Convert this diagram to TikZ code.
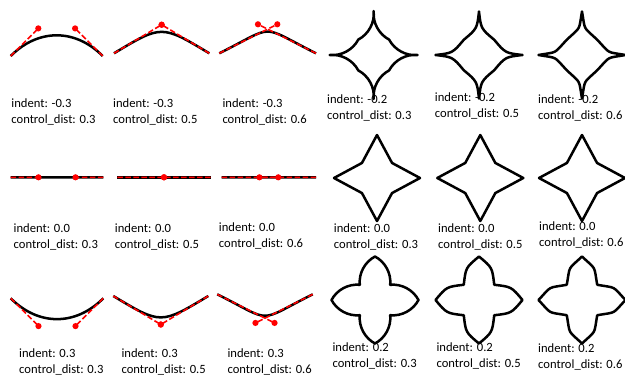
\documentclass[tikz,border=0pt]{standalone}
\usepackage{fontspec}
\setmainfont{Carlito}
\usetikzlibrary{calc}
\newcommand\seg[4]{.. controls ($(#1)!#4!(#2) + (#1)!#3!90:(#2) - (#1)$) and ($(#2)!#4!(#1) + (#1)!#3!90:(#2) - (#1)$) .. (#2)}
% #1 Ax #2 Ay #3 Bx #4 By #5 s(=-indent) #6 cd #7 name
\newcommand\curvepanel[7]{%
  \coordinate (#7a) at (#1,#2);
  \coordinate (#7b) at (#3,#4);
  \coordinate (#7p) at ($(#7a)!#6!(#7b) + (#7a)!#5!90:(#7b) - (#7a)$);
  \coordinate (#7q) at ($(#7b)!#6!(#7a) + (#7a)!#5!90:(#7b) - (#7a)$);
  \draw[curve] (#7a) .. controls (#7p) and (#7q) .. (#7b);
  \draw[ctrl] (#7a) -- (#7p);
  \draw[ctrl] (#7b) -- (#7q);
  \fill[dot] (#7p) circle[radius=3.1pt];
  \fill[dot] (#7q) circle[radius=3.1pt];
}
% #1 cx #2 cy #3 R #4 s #5 cd #6 name
\newcommand\starshape[6]{%
  \coordinate (#6o1) at (#1,#2-#3);
  \coordinate (#6i1) at (#1-0.35*#3,#2-0.35*#3);
  \coordinate (#6o2) at (#1-#3,#2);
  \coordinate (#6i2) at (#1-0.35*#3,#2+0.35*#3);
  \coordinate (#6o3) at (#1,#2+#3);
  \coordinate (#6i3) at (#1+0.35*#3,#2+0.35*#3);
  \coordinate (#6o4) at (#1+#3,#2);
  \coordinate (#6i4) at (#1+0.35*#3,#2-0.35*#3);
  \draw[outline] (#6o1) \seg{#6o1}{#6i1}{#4}{#5} \seg{#6i1}{#6o2}{#4}{#5}
    \seg{#6o2}{#6i2}{#4}{#5} \seg{#6i2}{#6o3}{#4}{#5}
    \seg{#6o3}{#6i3}{#4}{#5} \seg{#6i3}{#6o4}{#4}{#5}
    \seg{#6o4}{#6i4}{#4}{#5} \seg{#6i4}{#6o1}{#4}{#5} -- cycle;
}
% #1 x #2 baseline #3 indent #4 cd #5 name
\newcommand\lbl[5]{%
  \node[lbltext] (#5a) at (#1,#2) {indent: #3};
  \node[lbltext] (#5b) at (#1,#2+16) {control\_dist: #4};
}
\begin{document}
\begin{tikzpicture}[x=1pt,y=-1pt,
  curve/.style={line width=2.5pt, black},
  ctrl/.style={red, line width=1.6pt, dash pattern=on 5.5pt off 2.5pt},
  dot/.style={fill=red, draw=none},
  outline/.style={line width=2.5pt, black, line join=round},
  lbltext/.style={anchor=base west, inner sep=0pt, font=\fontsize{12.6}{16}\selectfont}]
\useasboundingbox (0,0) rectangle (625,376);
% left curves
\curvepanel{10.7}{56}{102.7}{56}{0.3}{0.3}{p11}
\curvepanel{114}{53.3}{209.3}{53.3}{0.3}{0.5}{p12}
\curvepanel{219.3}{53.3}{316}{53.3}{0.3}{0.6}{p13}
\curvepanel{10.7}{177.3}{103.3}{177.3}{0}{0.3}{p21}
\curvepanel{117.3}{177.3}{210.7}{177.3}{0}{0.5}{p22}
\curvepanel{221.7}{177.3}{316}{177.3}{0}{0.6}{p23}
\curvepanel{10.7}{298.3}{103.3}{298.3}{-0.3}{0.3}{p31}
\curvepanel{113.3}{296}{208.3}{296}{-0.3}{0.5}{p32}
\curvepanel{217.3}{294.3}{312.7}{294.3}{-0.3}{0.6}{p33}
% stars
\starshape{373.7}{55}{44}{0.2}{0.3}{s11}
\starshape{479}{55}{43.5}{0.2}{0.5}{s12}
\starshape{582}{55}{43.5}{0.2}{0.6}{s13}
\starshape{377}{178}{43}{0}{0.3}{s21}
\starshape{480.3}{178}{43}{0}{0.5}{s22}
\starshape{582}{178}{43}{0}{0.6}{s23}
\starshape{375}{300}{43.5}{-0.2}{0.3}{s31}
\starshape{479}{300}{43.5}{-0.2}{0.5}{s32}
\starshape{582}{300}{43.5}{-0.2}{0.6}{s33}
% labels
\lbl{11.2}{107}{-0.3}{0.3}{t11}
\lbl{113}{107}{-0.3}{0.5}{t12}
\lbl{222.3}{107.5}{-0.3}{0.6}{t13}
\lbl{327}{103}{-0.2}{0.3}{t14}
\lbl{434.7}{101}{-0.2}{0.5}{t15}
\lbl{538}{103}{-0.2}{0.6}{t16}
\lbl{13.5}{232}{0.0}{0.3}{t21}
\lbl{114.7}{232}{0.0}{0.5}{t22}
\lbl{218.7}{231}{0.0}{0.6}{t23}
\lbl{333.7}{232}{0.0}{0.3}{t24}
\lbl{438}{232}{0.0}{0.5}{t25}
\lbl{539}{230}{0.0}{0.6}{t26}
\lbl{19}{357}{0.3}{0.3}{t31}
\lbl{121.4}{357}{0.3}{0.5}{t32}
\lbl{227.4}{357}{0.3}{0.6}{t33}
\lbl{332.4}{351}{0.2}{0.3}{t34}
\lbl{436.4}{351}{0.2}{0.5}{t35}
\lbl{538}{352}{0.2}{0.6}{t36}
\end{tikzpicture}
\end{document}
